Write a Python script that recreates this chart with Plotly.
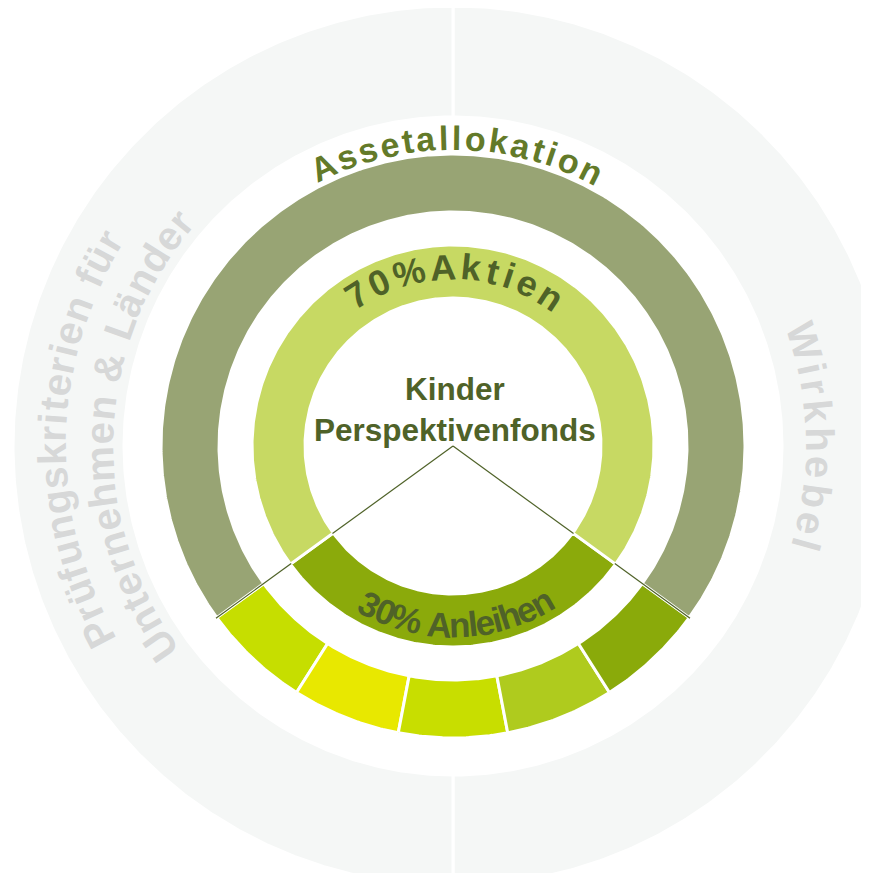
import numpy as np
import plotly.graph_objects as go

# ---------------- data ----------------
fund_title = ["Kinder", "Perspektivenfonds"]

inner_labels = ["70%Aktien", "30% Anleihen"]
inner_values = [70, 30]

middle_label = "Assetallokation"
middle_value = 70
segment_values = [6, 6, 6, 6, 6]

outer_labels = ["Wirkhebel", "Prüfungskriterien für", "Unternehmen & Länder"]
outer_values = [50, 50]

# ---------------- styles ----------------
C_AKTIEN = "#C7D963"
C_ANLEIHEN = "#8BAA0B"
C_ASSET = "#98A474"
SEG_COLORS = ["#C6DE00", "#E8E800", "#C8DE00", "#AFCB1E", "#8AAA0A"]
C_GREY = "#F5F7F6"
C_GREY_TXT = "#D7D8D8"
C_DARK = "#4F6228"
C_ASSET_TXT = "#637A29"
FONT = "Liberation Sans"

R_IN = (148, 201)
R_MID = (234, 292)
R_OUT = (329, 440)

# Arial / Liberation Sans Bold advance widths (per 1000 em)
W = {'A': 722, 's': 556, 'e': 556, 't': 333, 'a': 556, 'l': 278, 'o': 611, 'k': 556,
     'i': 278, 'n': 611, '7': 556, '0': 556, '%': 889, '3': 556, ' ': 278, 'h': 611,
     'W': 944, 'r': 389, 'b': 611, 'P': 667, 'ü': 611, 'f': 333, 'u': 611, 'g': 611,
     'm': 889, '&': 722, 'L': 611, 'ä': 556, 'd': 611, 'U': 722}

fig = go.Figure()


def sector(r0, r1, a0, a1, color, lw=3):
    n = max(8, int(abs(a1 - a0) * 2))
    t = np.radians(np.linspace(a0, a1, n))
    xs = np.concatenate([r1 * np.cos(t), r0 * np.cos(t[::-1])])
    ys = np.concatenate([r1 * np.sin(t), r0 * np.sin(t[::-1])])
    xs = np.append(xs, xs[0])
    ys = np.append(ys, ys[0])
    fig.add_trace(go.Scatter(x=xs, y=ys, mode="lines", fill="toself", fillcolor=color,
                             line=dict(color="white", width=lw), hoverinfo="skip",
                             showlegend=False))


# angles: bond share centred at the bottom
total = sum(inner_values)
start = -90 - inner_values[1] / total * 360 / 2

# outer grey ring (two halves)
a = -90
for v in outer_values:
    sweep = v / sum(outer_values) * 360
    sector(R_OUT[0], R_OUT[1], a, a + sweep, C_GREY, lw=3)
    a += sweep

# middle ring: five segments over the bond share, then asset allocation
a = start
for v, c in zip(segment_values, SEG_COLORS):
    sweep = v / total * 360
    sector(R_MID[0], R_MID[1], a, a + sweep, c, lw=3)
    a += sweep
sweep = middle_value / total * 360
sector(R_MID[0], R_MID[1], a, a + sweep, C_ASSET, lw=3)

# inner ring: Anleihen then Aktien
a = start
sweep_b = inner_values[1] / total * 360
sector(R_IN[0], R_IN[1], a, a + sweep_b, C_ANLEIHEN, lw=3)
sector(R_IN[0], R_IN[1], a + sweep_b, a + 360, C_AKTIEN, lw=3)

# thin divider lines at the bond-share boundaries
for ang in (start, start + sweep_b):
    t = np.radians(ang)
    for r0, r1 in ((0, R_IN[0] + 1), (R_IN[1] - 1, R_MID[1] + 1)):
        fig.add_trace(go.Scatter(x=[r0 * np.cos(t), r1 * np.cos(t)],
                                 y=[r0 * np.sin(t), r1 * np.sin(t)], mode="lines",
                                 line=dict(color=C_DARK, width=1.2), hoverinfo="skip",
                                 showlegend=False))

annotations = []


def arc_text(text, r, theta_c, size, spacing, color, outward=True):
    widths = [W.get(ch, 556) * size / 1000 for ch in text]
    L = sum(widths) + spacing * (len(text) - 1)
    pos = 0.0
    for ch, w in zip(text, widths):
        p = pos + w / 2
        d = np.degrees((L / 2 - p) / r)
        if outward:
            th = theta_c + d
            ang = 90 - th
        else:
            th = theta_c - d
            ang = -(th + 90)
        ang = (ang + 180) % 360 - 180
        if ch != " ":
            annotations.append(dict(
                x=r * np.cos(np.radians(th)), y=r * np.sin(np.radians(th)),
                xref="x", yref="y", text="<b>%s</b>" % ch, showarrow=False,
                textangle=ang, xanchor="center", yanchor="middle",
                font=dict(family=FONT, size=size, color=color)))
        pos += w + spacing


arc_text(middle_label, 308, 89.3, 34, 3.5, C_ASSET_TXT, outward=True)
arc_text(inner_labels[0], 179, 89.5, 36, 5.5, C_DARK, outward=True)
arc_text(inner_labels[1], 179, -88.8, 35, -2.5, C_DARK, outward=False)
arc_text(outer_labels[0], 367, 1.6, 40, 5.0, C_GREY_TXT, outward=True)
arc_text(outer_labels[1], 401, 178.9, 40, 1.7, C_GREY_TXT, outward=True)
arc_text(outer_labels[2], 354, 177.9, 40, 1.9, C_GREY_TXT, outward=True)

annotations.append(dict(x=2, y=37, xref="x", yref="y",
                        text="<b>%s</b>" % "<br>".join(fund_title), showarrow=False,
                        xanchor="center", yanchor="middle", align="center",
                        font=dict(family=FONT, size=31.5, color=C_DARK)))

# page body adds an 8px offset; size the figure to fill the rest of the window
fig.update_layout(
    width=861, height=865,
    margin=dict(l=0, r=0, t=0, b=0),
    paper_bgcolor="white", plot_bgcolor="white",
    xaxis=dict(range=[-445, 416], visible=False, fixedrange=True),
    yaxis=dict(range=[-427, 438], visible=False, fixedrange=True),
    annotations=annotations,
    showlegend=False,
)

fig.write_html("out.html")
